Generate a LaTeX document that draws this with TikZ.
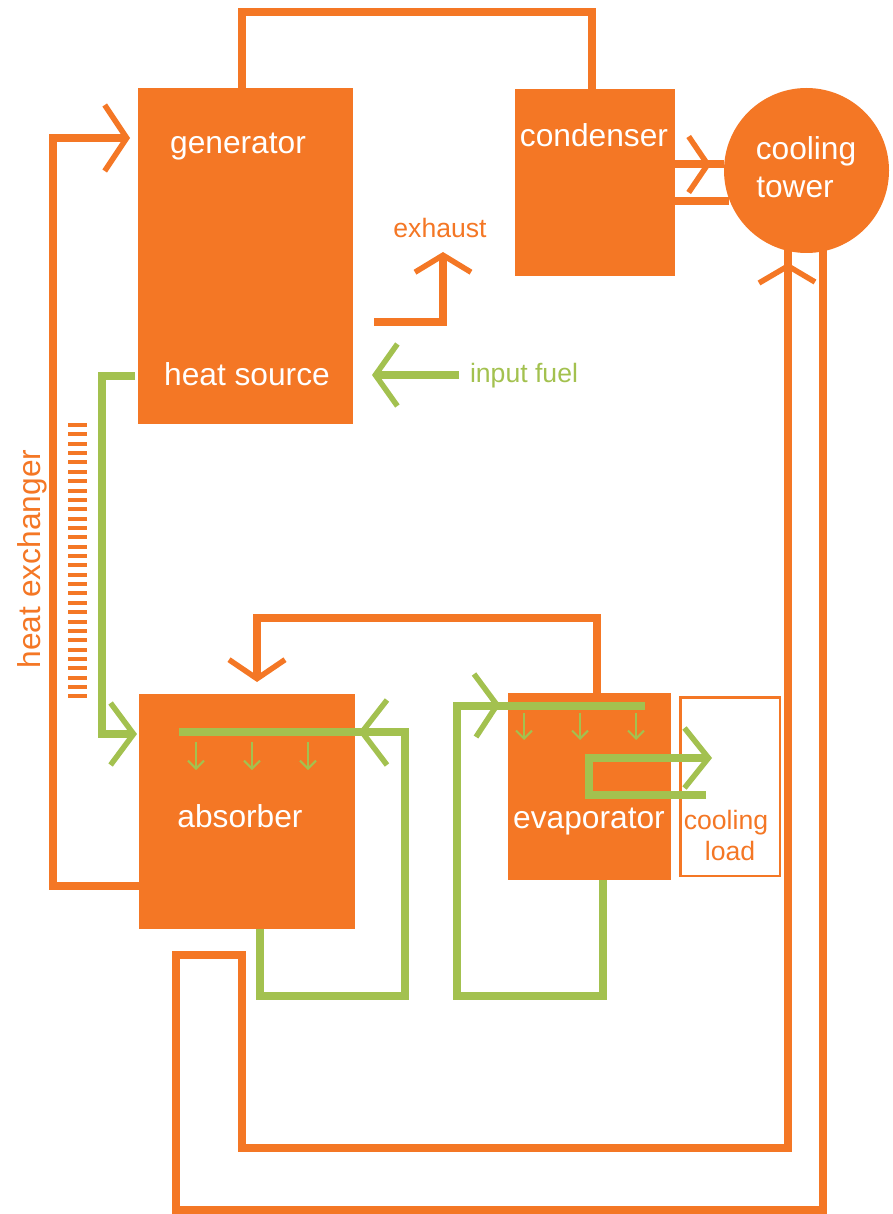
\documentclass[tikz,border=0pt]{standalone}
\usepackage{fontspec}
\setmainfont{Liberation Sans}
\usetikzlibrary{arrows.meta}
\definecolor{heat}{HTML}{F47725}
\definecolor{leaf}{HTML}{A3C14F}
\tikzset{
  box/.style={fill=heat,inner sep=0pt,outer sep=0pt},
  biglabel/.style={text=white,font=\fontsize{31.7}{36}\selectfont,inner sep=0pt},
  smallorange/.style={text=heat,font=\fontsize{26.6}{31}\selectfont,inner sep=0pt},
  smallgreen/.style={text=leaf,font=\fontsize{26.6}{31}\selectfont,inner sep=0pt},
  opipe/.style={draw=heat,line width=8pt,line join=miter},
  gpipe/.style={draw=leaf,line width=8pt,line join=miter},
  barb/.style 2 args={-{Straight Barb[length=#1,width=#2,line width=5.5pt]}},
  drip/.style={draw=leaf,line width=2pt,-{Straight Barb[length=8pt,width=16pt,line width=2pt]}},
}
\begin{document}
\begin{tikzpicture}[x=1pt,y=-1pt]
\useasboundingbox (0,0) rectangle (892,1214);
% main blocks
\node[box,minimum width=215pt,minimum height=336pt] (gen) at (245.5,256) {};
\node[box,minimum width=160pt,minimum height=187pt] (cond) at (595,182.5) {};
\node[box,circle,minimum size=165pt] (tower) at (806.5,170.5) {};
\node[box,minimum width=216pt,minimum height=235pt] (abs) at (247,811.5) {};
\node[box,minimum width=163pt,minimum height=187pt] (evap) at (589.5,786.5) {};
\node[draw=heat,line width=2.5pt,fill=white,minimum width=99.5pt,minimum height=178.5pt,inner sep=0pt] (load) at (730,786.5) {};
% labels
\node[biglabel] (lgen) at (238,147) {generator};
\node[biglabel] (lheat) at (247,374) {heat source};
\node[biglabel] (lcond) at (594,135) {condenser};
\node[biglabel] (lcool) at (806,151) {cooling};
\node[biglabel] (ltower) at (795,187) {tower};
\node[biglabel] (labs) at (240,816) {absorber};
\node[biglabel] (levap) at (589,822) {evaporator};
\node[smallorange] (lload1) at (726,823) {cooling};
\node[smallorange] (lload2) at (730,851) {load};
\node[smallorange] (lexh) at (440,228) {exhaust};
\node[smallgreen] (lfuel) at (524,376) {input fuel};
\node[text=heat,font=\fontsize{31.7}{36}\selectfont,inner sep=0pt,rotate=90] (lhx) at (32,559) {heat exchanger};
% heat-exchanger hatching
\foreach \i in {0,...,29} \draw[heat,line width=4pt] (68,425+9.36*\i) -- (87,425+9.36*\i);
% orange connectors
\draw[opipe] ([xshift=-3.5pt]gen.north) -- ++(0,-76) -| ([xshift=-3pt]cond.north);
\draw[opipe,barb={22pt}{66pt}] ([yshift=-74.5pt]abs.west) -- ++(-86,0) |- ([xshift=-8pt,yshift=118pt]gen.west);
\coordinate (exhstart) at (374,322);
\draw[opipe,barb={17pt}{56pt}] (exhstart) -| ([xshift=-72pt,yshift=-69.5pt]cond.west);
\draw[opipe,barb={19pt}{56pt}] ([xshift=7.5pt]evap.north) -- ++(0,-75) -| ([xshift=10pt,yshift=12pt]abs.north);
\draw[opipe,barb={19pt}{56pt}] ([yshift=18pt]cond.east) -- ++(36,0);
\draw[opipe] ([yshift=18pt]cond.east) -- (tower.west |- 0,164.5);
\draw[opipe] ([yshift=-18.5pt]cond.east) -- ++(54,0);
\coordinate (loopa) at (176,955);
\coordinate (loopb) at (242,1148);
\coordinate (loopc) at (176,1210);
\draw[opipe] (788,240) -- (loopb -| 788,0) -- (loopb) -- (loopb |- loopa) -- (loopa) -- (loopc) -- (823,1210) -- (823,240);
\coordinate (towerhead) at (788,266);
\draw[heat,line width=5.5pt] (759,283) -- (towerhead) -- (815,282);
% green connectors
\coordinate (fuelstart) at (459,375);
\draw[gpipe,barb={22pt}{62pt}] (fuelstart) -- ([xshift=19pt,yshift=-119pt]gen.east);
\draw[gpipe,barb={23pt}{62pt}] ([yshift=-120pt,xshift=-3pt]gen.west) -- ++(-33.5,0) |- ([xshift=-2pt,yshift=77.5pt]abs.west);
\draw[gpipe] ([xshift=13pt]abs.south) -- ++(0,67) -| (405,732) -- (179,732);
\draw[leaf,line width=5.5pt] (387,700) -- (362,732) -- (387,765);
\draw[gpipe] ([xshift=13.5pt]evap.south) -- ++(0,116) -| (457,705.5) -- (645,705.5);
\draw[leaf,line width=5.5pt] (474,674) -- (497,705) -- (476,737);
\draw[gpipe,barb={24pt}{60pt}] ([xshift=27pt,yshift=-8.5pt]load.west) -- ++(-117,0) |- ([xshift=-18pt,yshift=28.5pt]load.center);
\foreach \x in {196,252,308} \draw[drip] (\x,742) -- (\x,770);
\foreach \x in {524,580,636} \draw[drip] (\x,713) -- (\x,740);
\end{tikzpicture}
\end{document}
